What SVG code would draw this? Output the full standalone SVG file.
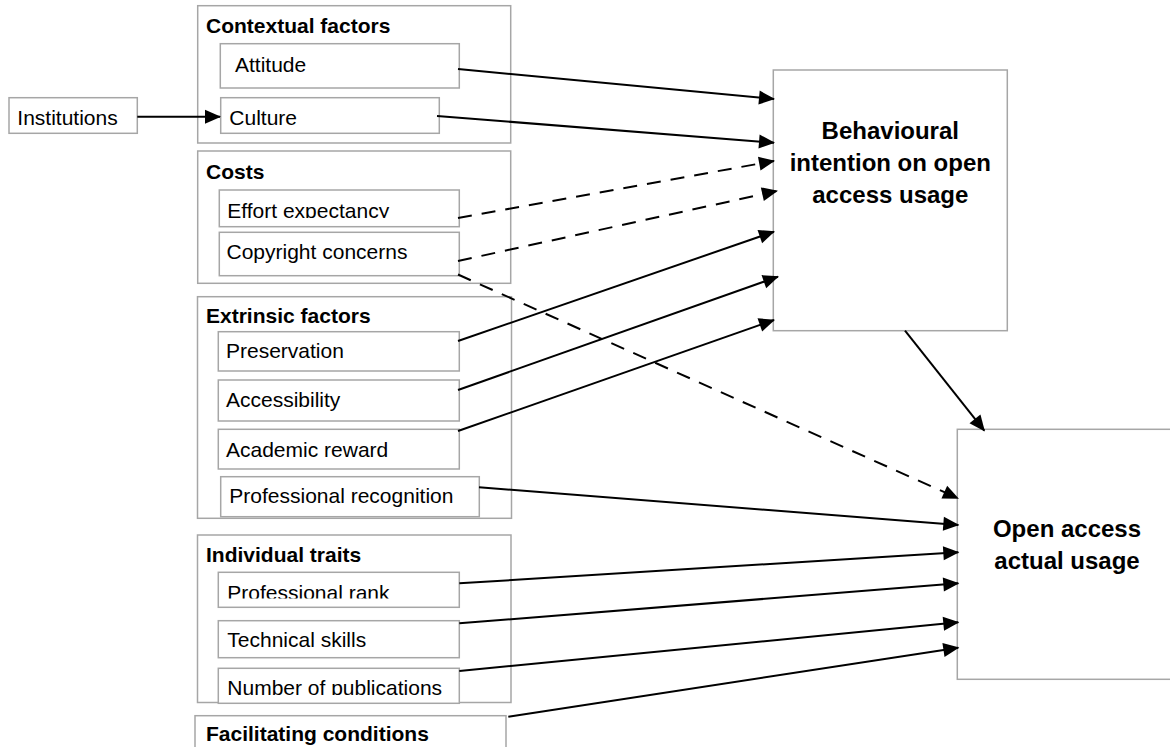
<svg xmlns="http://www.w3.org/2000/svg" width="1170" height="747" viewBox="0 0 1170 747">
  <style>
    .box { fill: #ffffff; stroke: #a6a6a6; stroke-width: 1.5; }
    .t { font-family: "Liberation Sans", Arial, sans-serif; font-size: 21px; fill: #000; }
    .b { font-family: "Liberation Sans", Arial, sans-serif; font-size: 21px; font-weight: bold; fill: #000; }
    .big { font-family: "Liberation Sans", Arial, sans-serif; font-size: 24px; font-weight: bold; fill: #000; text-anchor: middle; }
    .c { fill: none; stroke: #000; stroke-width: 2; marker-end: url(#arr); }
    .d { stroke-dasharray: 14 10; }
  </style>
  <defs>
    <marker id="arr" markerUnits="userSpaceOnUse" markerWidth="16" markerHeight="14" refX="15" refY="7" orient="auto" overflow="visible">
      <path d="M0,0 L16,7 L0,14 z" fill="#000"/>
    </marker>
    <clipPath id="clipEffort"><rect x="219" y="190" width="240" height="28"/></clipPath>
    <clipPath id="clipRank"><rect x="219" y="572" width="240" height="26.5"/></clipPath>
    <clipPath id="clipPub"><rect x="219" y="668" width="240" height="27"/></clipPath>
  </defs>

  <g id="contextual-factors">
    <rect class="box" x="197.7" y="5.7" width="313" height="137.3"/>
    <text class="b" x="206" y="33.3">Contextual factors</text>
  </g>
  <g id="attitude">
    <rect class="box" x="220.3" y="43.7" width="239" height="44.3"/>
    <text class="t" x="235" y="71.7">Attitude</text>
  </g>
  <g id="culture">
    <rect class="box" x="220.7" y="97.7" width="218.6" height="35.6"/>
    <text class="t" x="229.3" y="125">Culture</text>
  </g>
  <g id="institutions">
    <rect class="box" x="9" y="97.7" width="128.3" height="35.6"/>
    <text class="t" x="17.3" y="125">Institutions</text>
  </g>

  <g id="costs">
    <rect class="box" x="197.7" y="151" width="313" height="132.3"/>
    <text class="b" x="206" y="178.5">Costs</text>
  </g>
  <g id="effort-expectancy">
    <rect class="box" x="219.3" y="190" width="240" height="36.7"/>
    <text class="t" x="227.3" y="217.5" clip-path="url(#clipEffort)">Effort expectancy</text>
  </g>
  <g id="copyright-concerns">
    <rect class="box" x="219.3" y="232.3" width="240" height="43.4"/>
    <text class="t" x="226.5" y="259">Copyright concerns</text>
  </g>

  <g id="extrinsic-factors">
    <rect class="box" x="197.5" y="296.7" width="314" height="221.6"/>
    <text class="b" x="206" y="323.3">Extrinsic factors</text>
  </g>
  <g id="preservation">
    <rect class="box" x="218.3" y="331.7" width="241" height="39.3"/>
    <text class="t" x="226" y="358.3">Preservation</text>
  </g>
  <g id="accessibility">
    <rect class="box" x="218.3" y="380" width="241" height="41"/>
    <text class="t" x="226" y="407.3">Accessibility</text>
  </g>
  <g id="academic-reward">
    <rect class="box" x="218.3" y="429.3" width="241" height="39.7"/>
    <text class="t" x="226" y="456.7">Academic reward</text>
  </g>
  <g id="professional-recognition">
    <rect class="box" x="220.7" y="476.7" width="258.6" height="40"/>
    <text class="t" x="229.3" y="503.3">Professional recognition</text>
  </g>

  <g id="individual-traits">
    <rect class="box" x="197.5" y="535" width="313.5" height="167.5"/>
    <text class="b" x="206" y="562.3">Individual traits</text>
  </g>
  <g id="professional-rank">
    <rect class="box" x="218.3" y="572.3" width="241" height="35"/>
    <text class="t" x="227.3" y="599.5" clip-path="url(#clipRank)">Professional rank</text>
  </g>
  <g id="technical-skills">
    <rect class="box" x="218.3" y="620.7" width="241" height="37"/>
    <text class="t" x="227.3" y="646.7">Technical skills</text>
  </g>
  <g id="number-of-publications">
    <rect class="box" x="218.3" y="668.3" width="241" height="35"/>
    <text class="t" x="227.3" y="694.5" clip-path="url(#clipPub)">Number of publications</text>
  </g>

  <g id="facilitating-conditions">
    <rect class="box" x="195" y="715.7" width="311" height="60"/>
    <text class="b" x="206" y="741">Facilitating conditions</text>
  </g>

  <g id="behavioural-intention">
    <rect class="box" x="773.3" y="70" width="234" height="260.7"/>
    <text class="big" x="890.3" y="138.5">Behavioural</text>
    <text class="big" x="890.3" y="170.5">intention on open</text>
    <text class="big" x="890.3" y="202.5">access usage</text>
  </g>

  <g id="open-access-actual-usage">
    <rect class="box" x="957.3" y="429.3" width="230" height="250"/>
    <text class="big" x="1067" y="536.5">Open access</text>
    <text class="big" x="1067" y="568.5">actual usage</text>
  </g>

  <g id="connectors">
    <line class="c" x1="137.3" y1="116.7" x2="220" y2="116.7"/>
    <line class="c" x1="458" y1="69" x2="774" y2="99"/>
    <line class="c" x1="437" y1="116" x2="774" y2="142.7"/>
    <line class="c d" x1="458" y1="218" x2="774" y2="161"/>
    <line class="c d" x1="458" y1="261" x2="777" y2="191"/>
    <line class="c" x1="458" y1="341" x2="774" y2="231.7"/>
    <line class="c" x1="458" y1="390" x2="778" y2="276.7"/>
    <line class="c" x1="458" y1="431" x2="774" y2="320"/>
    <line class="c d" x1="458" y1="274.5" x2="958" y2="498.3"/>
    <line class="c" x1="905" y1="330.7" x2="984.3" y2="430.7"/>
    <line class="c" x1="479" y1="487.3" x2="958.3" y2="525"/>
    <line class="c" x1="459.3" y1="583.3" x2="958.3" y2="552.3"/>
    <line class="c" x1="459.3" y1="623.3" x2="958.3" y2="583.3"/>
    <line class="c" x1="459.3" y1="671" x2="958.3" y2="622.3"/>
    <line class="c" x1="508.3" y1="716.7" x2="958.3" y2="647.7"/>
  </g>
</svg>
